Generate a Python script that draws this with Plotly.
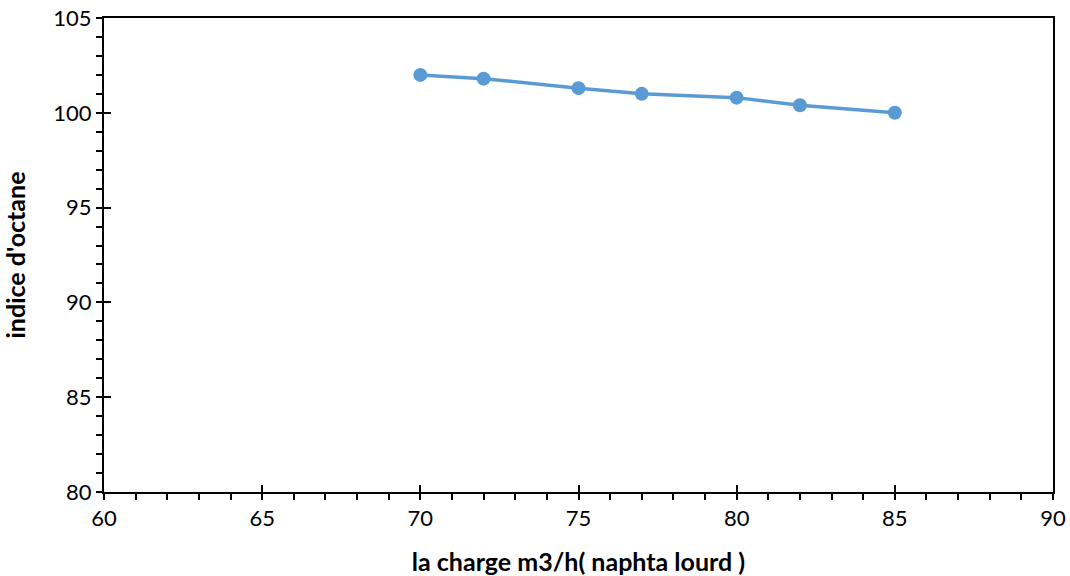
import plotly.graph_objects as go

# Charge (m3/h) of heavy naphtha and resulting octane number
charge = [70, 72, 75, 77, 80, 82, 85]
indice_octane = [102.0, 101.8, 101.3, 101.0, 100.8, 100.4, 100.0]

x_title = "la charge m3/h( naphta lourd )"
y_title = "indice d'octane"

line_color = "#5B9BD5"
font_family = "Lato, 'Open Sans', sans-serif"

fig = go.Figure()
fig.add_trace(go.Scatter(
    x=charge, y=indice_octane, mode="lines+markers",
    line=dict(color=line_color, width=3.5),
    marker=dict(color=line_color, size=14),
    showlegend=False,
))
# invisible trace carrying the inner half of the crossing major ticks
fig.add_trace(go.Scatter(
    x=charge, y=indice_octane, mode="markers", xaxis="x2", yaxis="y2",
    marker=dict(opacity=0), hoverinfo="skip", showlegend=False,
))

axis_common = dict(
    showgrid=False, zeroline=False, showline=True, linecolor="black",
    linewidth=2, mirror=True, ticks="outside", ticklen=6, tickwidth=2,
    tickcolor="black", automargin=False,
    tickfont=dict(family=font_family, size=22, color="black"),
)

fig.update_layout(
    width=1070, height=576,
    margin=dict(l=104, r=17, t=18, b=84),
    plot_bgcolor="white", paper_bgcolor="white",
    xaxis=dict(
        range=[60, 90], dtick=5, tick0=60,
        minor=dict(ticks="outside", dtick=1, ticklen=6, tickwidth=2, tickcolor="black"),
        title=dict(text=f"<b>{x_title}</b>", standoff=23,
                   font=dict(family=font_family, size=25, color="black")),
        **axis_common,
    ),
    yaxis=dict(
        range=[80, 105], dtick=5, tick0=80,
        minor=dict(ticks="outside", dtick=1, ticklen=6, tickwidth=2, tickcolor="black"),
        title=dict(text=f"<b>{y_title}</b>", standoff=24,
                   font=dict(family=font_family, size=25, color="black")),
        **axis_common,
    ),
    xaxis2=dict(overlaying="x", matches="x", anchor="y", side="bottom",
                range=[60, 90], dtick=5, tick0=60, ticks="inside", ticklen=7,
                tickwidth=2, tickcolor="black", showticklabels=False,
                showgrid=False, zeroline=False, showline=False),
    yaxis2=dict(overlaying="y", matches="y", anchor="x", side="left",
                range=[80, 105], dtick=5, tick0=80, ticks="inside", ticklen=7,
                tickwidth=2, tickcolor="black", showticklabels=False,
                showgrid=False, zeroline=False, showline=False),
)

fig.write_html("out.html")
